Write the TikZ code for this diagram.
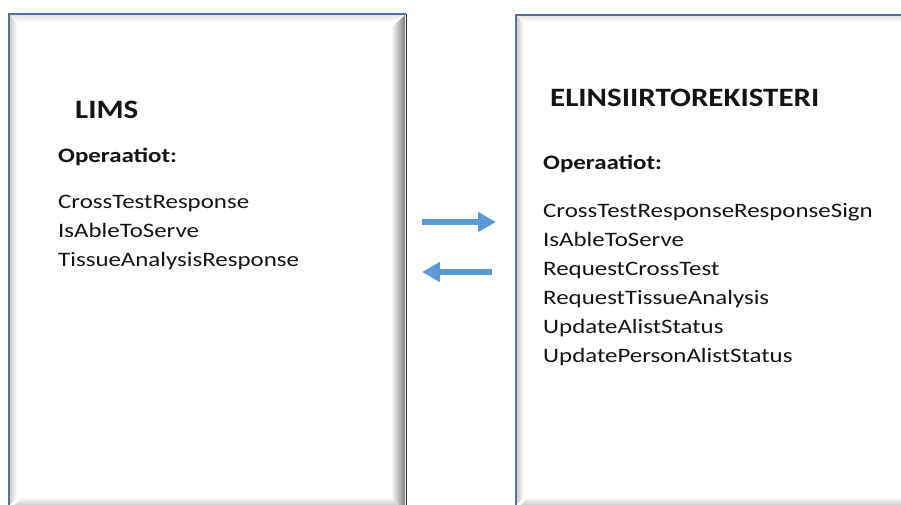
\documentclass[tikz,border=0pt]{standalone}
\usepackage{fontspec}
\setmainfont{Carlito}
\usetikzlibrary{arrows.meta}
\definecolor{frame}{RGB}{84,112,168}
\definecolor{frameDark}{RGB}{40,52,78}
\definecolor{arrowBlue}{RGB}{91,155,213}
\definecolor{txt}{RGB}{20,20,20}
\newcommand\xstretch[1]{\scalebox{1.17}[1]{#1}}
\newcommand\xstretchb[1]{\scalebox{1.215}[1]{#1}}
\tikzset{
  itm/.style={anchor=base west, inner sep=0pt, text=txt, font=\fontsize{20.5}{24}\selectfont},
  hdr/.style={anchor=base west, inner sep=0pt, text=txt, font=\fontsize{20.5}{24}\selectfont\bfseries},
  ttl/.style={anchor=base west, inner sep=0pt, text=txt, font=\fontsize{26.5}{30}\selectfont\bfseries},
  blockarrow/.style={draw=arrowBlue, line width=6pt, -{Triangle[length=18pt,width=19pt]}},
  boxframe/.style={draw=frame, line width=1.6pt},
}
\begin{document}
\begin{tikzpicture}[x=1pt,y=-1pt]
\useasboundingbox (0,0) rectangle (901,504);
\clip (0,0) rectangle (901,504);
% ---------- left box ----------
\node (lims) [draw=none, fill=white, minimum width=397pt, minimum height=520pt, anchor=north west, inner sep=0pt] at (9,14) {};
\shade[left color=white, right color=black!50] (391,28) -- (405,15) -- (405,512) -- (391,498) -- cycle;
\shade[top color=white, bottom color=black!35] (22,497) -- (391,497) -- (405,511) -- (9,511) -- cycle;
\shade[left color=black!22, right color=white] (9,14) -- (17,24) -- (17,497) -- (9,505) -- cycle;
\shade[top color=black!12, bottom color=white] (9,14) -- (405,14) -- (391,22) -- (17,22) -- cycle;
\draw[boxframe] (lims.south west) -- (lims.north west) -- (lims.north east);
\draw[draw=frameDark, line width=1.8pt] (lims.north east) -- (lims.south east);
% ---------- right box ----------
\node (reg) [draw=none, fill=white, minimum width=420pt, minimum height=520pt, anchor=north west, inner sep=0pt] at (516,15) {};
\shade[top color=white, bottom color=black!35] (528,497) -- (940,497) -- (940,511) -- (516,511) -- cycle;
\shade[left color=black!22, right color=white] (516,15) -- (524,24) -- (524,497) -- (516,505) -- cycle;
\shade[top color=black!12, bottom color=white] (516,15) -- (940,15) -- (940,22) -- (524,22) -- cycle;
\draw[boxframe] (reg.south west) -- (reg.north west) -- (reg.north east);
% ---------- left texts ----------
\node (limsT) [ttl] at (75,118) {\xstretch{LIMS}};
\node (limsOp) [hdr] at (58,162) {\xstretchb{Operaatiot:}};
\node (l1) [itm] at (58,208) {\xstretchb{CrossTestResponse}};
\node (l2) [itm] at (58,237) {\xstretchb{IsAbleToServe}};
\node (l3) [itm] at (58,266) {\xstretchb{TissueAnalysisResponse}};
% ---------- right texts ----------
\node (regT) [ttl] at (550,106) {\xstretch{ELINSIIRTOREKISTERI}};
\node (regOp) [hdr] at (543,169) {\xstretchb{Operaatiot:}};
\node (r1) [itm] at (543,217) {\xstretchb{CrossTestResponseResponseSign}};
\node (r2) [itm] at (543,246) {\xstretchb{IsAbleToServe}};
\node (r3) [itm] at (543,275) {\xstretchb{RequestCrossTest}};
\node (r4) [itm] at (543,304) {\xstretchb{RequestTissueAnalysis}};
\node (r5) [itm] at (543,333) {\xstretchb{UpdateAlistStatus}};
\node (r6) [itm] at (543,362) {\xstretchb{UpdatePersonAlistStatus}};
% ---------- arrows ----------
\coordinate (a1s) at (422,222);
\coordinate (a1e) at (496,222);
\coordinate (a2s) at (492,272);
\coordinate (a2e) at (422,272);
\draw[blockarrow] (a1s) -- (a1e);
\draw[blockarrow] (a2s) -- (a2e);
\end{tikzpicture}
\end{document}
